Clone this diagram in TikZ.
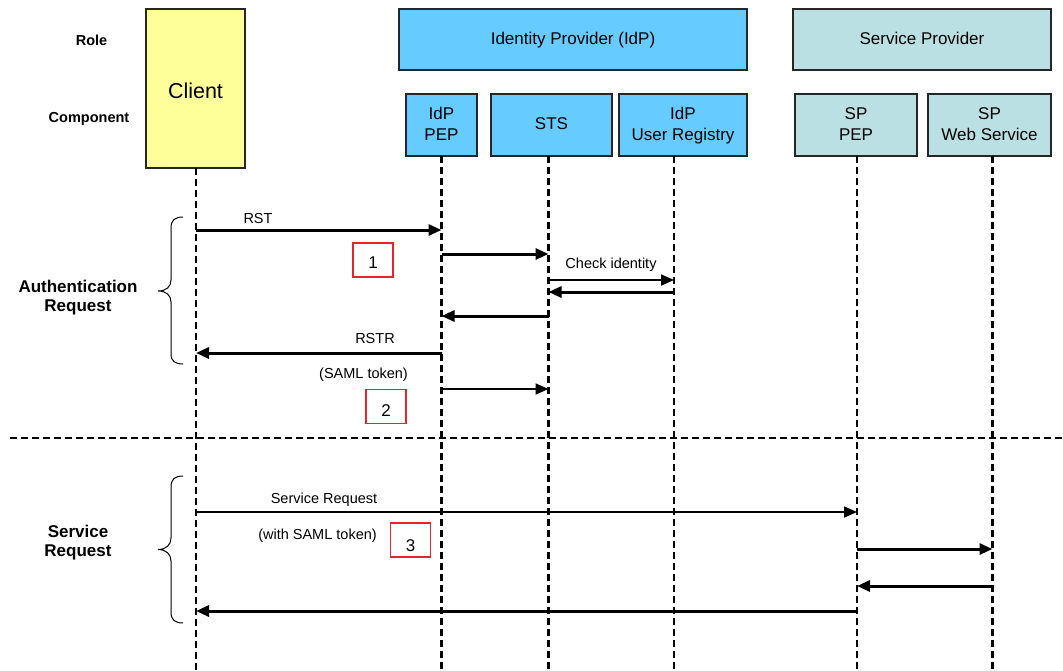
\documentclass[tikz,border=0pt]{standalone}
\usepackage{fontspec}
\setmainfont{Liberation Sans}
\usetikzlibrary{arrows.meta}
\definecolor{clientY}{HTML}{FFFF99}
\definecolor{idpB}{HTML}{66CCFF}
\definecolor{spT}{HTML}{BBE0E3}
\definecolor{redB}{HTML}{E8242A}
\newcommand\lstr{\rule[-4pt]{0pt}{17pt}}
\begin{document}
\begin{tikzpicture}[x=1pt,y=-1pt,
  box/.style={draw=black!85, line width=1.3pt, rectangle, inner sep=0pt, outer sep=0pt, align=center, font=\fontsize{17}{21}\selectfont},
  life/.style={line width=2.2pt, dash pattern=on 7pt off 4pt},
  thk/.style={line width=3pt, -{Triangle[length=13pt,width=11pt]}},
  thn/.style={line width=1.8pt, -{Triangle[length=13pt,width=11pt]}},
  lbl/.style={font=\fontsize{14.5}{17}\selectfont, anchor=base, inner sep=0pt},
  hdr/.style={font=\bfseries\fontsize{14.5}{17}\selectfont, anchor=base, inner sep=0pt},
  grp/.style={font=\bfseries\fontsize{17}{19}\selectfont, align=center, inner sep=0pt},
  redbox/.style={draw=redB, line width=1.2pt, minimum width=40pt, minimum height=34pt, inner sep=0pt, text depth=0pt, font=\fontsize{17}{20}\selectfont, fill=white},
  brc/.style={line width=1pt}
]
\useasboundingbox (0,0) rectangle (1063,670);

% headers
\node[hdr] (role) at (91.5,45.5) {Role};
\node[hdr] (comp) at (89,122) {Component};

% boxes
\node[box, fill=clientY, minimum width=99pt, minimum height=159pt, text height=20pt, text depth=0pt, font=\fontsize{21.5}{24}\selectfont] (client) at (195.5,88.5) {Client};
\node[box, fill=idpB, minimum width=348pt, minimum height=61pt] (idp) at (573,39.5) {\lstr Identity Provider (IdP)};
\node[box, fill=spT, minimum width=258pt, minimum height=61pt] (sp) at (922,39.5) {\lstr Service Provider};
\node[box, fill=idpB, minimum width=71pt, minimum height=62pt] (pep) at (441.5,125) {\lstr IdP\\\lstr PEP};
\node[box, fill=idpB, minimum width=121pt, minimum height=62pt] (sts) at (551.5,125) {\lstr STS};
\node[box, fill=idpB, minimum width=128pt, minimum height=62pt] (ureg) at (683,125) {\lstr IdP\\\lstr User Registry};
\node[box, fill=spT, minimum width=122pt, minimum height=62pt] (sppep) at (856,125) {\lstr SP\\\lstr PEP};
\node[box, fill=spT, minimum width=123pt, minimum height=62pt] (spws) at (989.5,125) {\lstr SP\\\lstr Web Service};

% lifeline anchors
\coordinate (lC) at (196,168);
\coordinate (lP) at (441.5,156);
\coordinate (lS) at (548.5,156);
\coordinate (lU) at (674,156);
\coordinate (lSP) at (857,156);
\coordinate (lW) at (992.5,156);

% arrows
\draw[thk] (lC |- 0,230) -- (lP |- 0,230);
\draw[thk] (lP |- 0,254) -- (lS |- 0,254);
\draw[thn] (lS |- 0,280) -- (lU |- 0,280);
\draw[thk] (lU |- 0,292) -- (lS |- 0,292);
\draw[thk] (lS |- 0,316) -- (lP |- 0,316);
\draw[thk] (lP |- 0,353) -- (lC |- 0,353);
\draw[thn] (lP |- 0,389) -- (lS |- 0,389);
\draw[thn] (lC |- 0,512) -- (lSP |- 0,512);
\draw[thk] (lSP |- 0,549) -- (lW |- 0,549);
\draw[thk] (lW |- 0,586) -- (lSP |- 0,586);
\draw[thk] (lSP |- 0,611) -- (lC |- 0,611);

% lifelines
\draw[life] (lC) -- (lC |- 0,670);
\draw[life] (lP) -- (lP |- 0,670);
\draw[life] (lS) -- (lS |- 0,670);
\draw[life] (lU) -- (lU |- 0,670);
\draw[life] (lSP) -- (lSP |- 0,670);
\draw[life] (lW) -- (lW |- 0,670);

% separator
\draw[life] (10,438) -- (1063,438);

% arrow labels
\node[lbl] (tRST) at (258,223) {RST};
\node[lbl] (tChk) at (611,268) {Check identity};
\node[lbl] (tRSTR) at (375,343) {RSTR};
\node[lbl] (tSAML) at (363.5,378) {(SAML token)};
\node[lbl] (tSR) at (324,503) {Service Request};
\node[lbl] (tSAML2) at (317.5,539) {(with SAML token)};

% step markers
\node[redbox, text height=16pt] (s1) at (373,260) {1};
\node[redbox, text height=19pt] (s2) at (386,406.5) {2};
\node[redbox, text height=22pt] (s3) at (410.5,540) {3};

% braces
\draw[brc] (183,217) .. controls (175,217) and (171,220) .. (171,228) -- (171,280) .. controls (171,287) and (166,291) .. (158,291) .. controls (166,291) and (171,295) .. (171,302) -- (171,354) .. controls (171,361) and (175,364) .. (183,364);
\draw[brc] (183,476) .. controls (175,476) and (171,479) .. (171,487) -- (171,538) .. controls (171,545) and (166,549.5) .. (158,549.5) .. controls (166,549.5) and (171,554) .. (171,561) -- (171,612) .. controls (171,620) and (175,623) .. (183,623);

\node[grp] (gAuth) at (78,298) {Authentication\\Request};
\node[grp] (gServ) at (78,542.5) {Service\\Request};
\end{tikzpicture}
\end{document}
